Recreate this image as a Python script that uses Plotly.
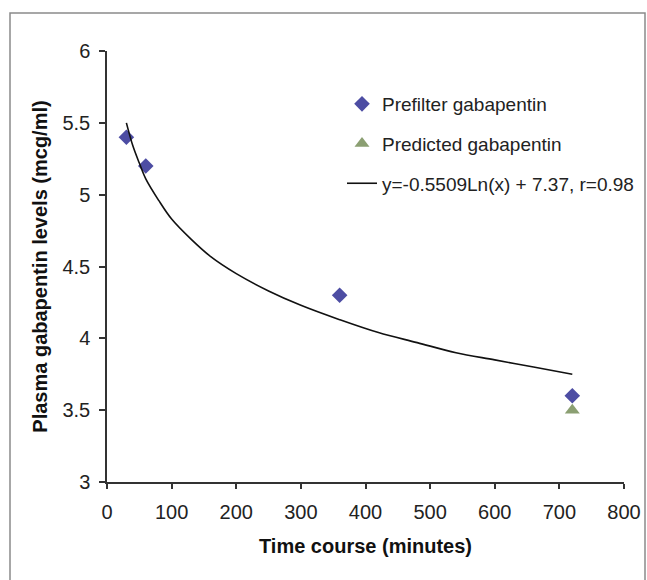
import plotly.graph_objects as go

# ---- data ----
prefilter_x = [30, 60, 360, 720]
prefilter_y = [5.4, 5.2, 4.3, 3.6]

predicted_x = [720]
predicted_y = [3.5]

trend_x = [30, 40, 50, 60, 80, 100, 130, 160, 200, 250, 300, 360, 420, 480, 540, 600, 660, 720]
trend_y = [5.50, 5.34, 5.22, 5.11, 4.96, 4.83, 4.69, 4.57, 4.45, 4.33, 4.23, 4.13, 4.04, 3.97, 3.90, 3.85, 3.80, 3.75]

x_ticks = [0, 100, 200, 300, 400, 500, 600, 700, 800]
y_ticks = [3, 3.5, 4, 4.5, 5, 5.5, 6]
y_tick_labels = ["3", "3.5", "4", "4.5", "5", "5.5", "6"]

FONT = "Liberation Sans, Arial, sans-serif"
AX = "#333333"

fig = go.Figure()
fig.add_trace(go.Scatter(
    x=prefilter_x, y=prefilter_y, mode="markers", name="Prefilter gabapentin",
    legendgroup="a",
    marker=dict(symbol="diamond", size=12, color="#4D4DA3"),
))
fig.add_trace(go.Scatter(
    x=predicted_x, y=predicted_y, mode="markers", name="Predicted gabapentin",
    legendgroup="b",
    marker=dict(symbol="triangle-up", size=13, color="#8B9F72"),
))
fig.add_trace(go.Scatter(
    x=trend_x, y=trend_y, mode="lines", name="y=-0.5509Ln(x) + 7.37, r=0.98",
    legendgroup="c",
    line=dict(color="#111111", width=1.6, shape="spline"),
))

W, H = 647, 580
L, R, T, B = 107, 23, 51, 98
pw, ph = W - L - R, H - T - B

def px2paper_x(p):
    return (p - L) / pw

def px2paper_y(p):
    return (H - B - p) / ph

fig.update_layout(
    width=W, height=H,
    margin=dict(l=L, r=R, t=T, b=B, autoexpand=False),
    paper_bgcolor="white", plot_bgcolor="white",
    font=dict(family=FONT, color="#222222", size=20),
    showlegend=True,
    legend=dict(
        x=px2paper_x(342), y=px2paper_y(85), xanchor="left", yanchor="top",
        font=dict(size=19, color="#222222"),
        bgcolor="rgba(0,0,0,0)", tracegroupgap=12,
    ),
    xaxis=dict(
        range=[0, 800], tickvals=x_ticks, showgrid=False, zeroline=False,
        showline=True, linecolor=AX, linewidth=1.5, automargin=False,
        ticks="outside", ticklen=5, tickwidth=1.5, tickcolor=AX,
        ticklabelstandoff=6,
        tickfont=dict(size=20, color="#222222"),
        title=dict(text="<b>Time course (minutes)</b>", font=dict(size=20, color="#111111"), standoff=17),
    ),
    yaxis=dict(
        range=[3, 6], tickvals=y_ticks, ticktext=y_tick_labels, showgrid=False, zeroline=False,
        showline=True, linecolor=AX, linewidth=1.5, automargin=False,
        ticks="outside", ticklen=6, tickwidth=1.5, tickcolor=AX,
        ticklabelstandoff=5,
        tickfont=dict(size=20, color="#222222"),
        title=dict(text="<b>Plasma gabapentin levels (mcg/ml)</b>", font=dict(size=20, color="#111111"), standoff=9),
    ),
    shapes=[dict(
        type="rect", xref="paper", yref="paper",
        x0=px2paper_x(10), x1=px2paper_x(645), y0=px2paper_y(600), y1=px2paper_y(13),
        line=dict(color="#8a8a8a", width=1.5), fillcolor="rgba(0,0,0,0)", layer="below",
    )],
)

fig.write_html(
    "out.html",
    config={"displayModeBar": False},
    post_script="document.body.style.margin='0';document.body.style.overflow='hidden';",
)
